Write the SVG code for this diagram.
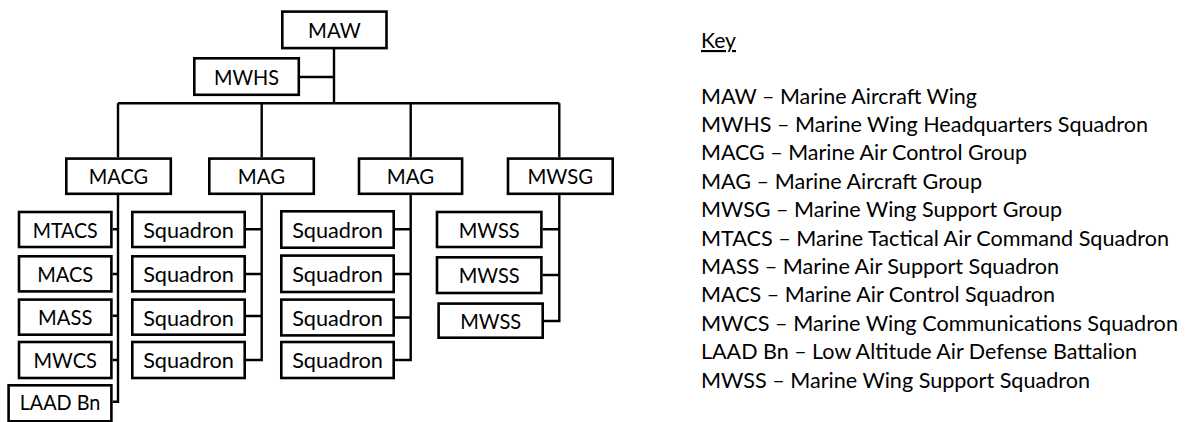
<svg xmlns="http://www.w3.org/2000/svg" width="1186" height="422" viewBox="0 0 1186 422">
<style>
.box{fill:#fff;stroke:#000;stroke-width:2.6}
.lbl{font-family:Lato,"Open Sans","Liberation Sans",sans-serif;font-size:21.5px;fill:#000;text-anchor:middle}
.key{font-family:Lato,"Open Sans","Liberation Sans",sans-serif;font-size:21.5px;fill:#000}
.con{fill:none;stroke:#000;stroke-width:2.4}
</style>
<rect width="1186" height="422" fill="#fff"/>
<g id="connectors">
<path class="con" d="M334,49 V103.3 M300,77 H334 M118,103.3 H559.3 M118,103.3 V157.3 M261.7,103.3 V157.3 M410.7,103.3 V157.3 M559.3,103.3 V157.3"/>
<path class="con" d="M118,195 V401.7 H112.7 M112.7,229.3 H118 M112.7,274 H118 M112.7,315.7 H118 M112.7,360 H118"/>
<path class="con" d="M261.7,195 V360 H246 M246,229.3 H261.7 M246,274 H261.7 M246,316 H261.7"/>
<path class="con" d="M410.7,195 V360 H395 M395,229.3 H410.7 M395,274 H410.7 M395,317.5 H410.7"/>
<path class="con" d="M559.3,195 V321 H544 M542.7,229.3 H559.3 M542.7,275 H559.3"/>
</g>
<g id="MAW"><rect class="box" x="282.3" y="11.6" width="104.2" height="36.5"/><text class="lbl" x="334.4" y="38.3" textLength="52.7" lengthAdjust="spacingAndGlyphs">MAW</text></g>
<g id="MWHS"><rect class="box" x="194.3" y="58.3" width="104.5" height="36.5"/><text class="lbl" x="246.5" y="85" textLength="65" lengthAdjust="spacingAndGlyphs">MWHS</text></g>
<g id="MACG"><rect class="box" x="66.3" y="158.6" width="104.5" height="35.2"/><text class="lbl" x="118.5" y="184.3" textLength="59.3" lengthAdjust="spacingAndGlyphs">MACG</text></g>
<g id="MAG1"><rect class="box" x="209.3" y="158.6" width="104.5" height="35.2"/><text class="lbl" x="261.5" y="184.3" textLength="47.3" lengthAdjust="spacingAndGlyphs">MAG</text></g>
<g id="MAG2"><rect class="box" x="359" y="158.6" width="103.1" height="35.2"/><text class="lbl" x="410.5" y="184.3" textLength="47.3" lengthAdjust="spacingAndGlyphs">MAG</text></g>
<g id="MWSG"><rect class="box" x="508" y="158.6" width="104.7" height="35.2"/><text class="lbl" x="560.3" y="184.3" textLength="65.7" lengthAdjust="spacingAndGlyphs">MWSG</text></g>
<g id="MTACS"><rect class="box" x="19" y="212" width="92.4" height="35"/><text class="lbl" x="65.2" y="237.5" textLength="65" lengthAdjust="spacingAndGlyphs">MTACS</text></g>
<g id="MACS"><rect class="box" x="19" y="256.3" width="92.4" height="35.1"/><text class="lbl" x="65.2" y="282" textLength="56" lengthAdjust="spacingAndGlyphs">MACS</text></g>
<g id="MASS"><rect class="box" x="19" y="299.6" width="92.4" height="35.1"/><text class="lbl" x="65.2" y="325.3" textLength="54.3" lengthAdjust="spacingAndGlyphs">MASS</text></g>
<g id="MWCS"><rect class="box" x="19" y="342" width="92.4" height="36"/><text class="lbl" x="65.2" y="368" textLength="63.3" lengthAdjust="spacingAndGlyphs">MWCS</text></g>
<g id="LAADBn"><rect class="box" x="8.6" y="385.3" width="102.8" height="36"/><text class="lbl" x="60" y="410" textLength="80.7" lengthAdjust="spacingAndGlyphs">LAAD Bn</text></g>
<g id="SqA1"><rect class="box" x="132.3" y="212" width="112.4" height="35"/><text class="lbl" x="188.5" y="237.7" textLength="90.7" lengthAdjust="spacingAndGlyphs">Squadron</text></g>
<g id="SqA2"><rect class="box" x="132.3" y="256.3" width="112.4" height="35.1"/><text class="lbl" x="188.5" y="282.2" textLength="90.7" lengthAdjust="spacingAndGlyphs">Squadron</text></g>
<g id="SqA3"><rect class="box" x="132.3" y="299.6" width="112.4" height="35.1"/><text class="lbl" x="188.5" y="325.5" textLength="90.7" lengthAdjust="spacingAndGlyphs">Squadron</text></g>
<g id="SqA4"><rect class="box" x="132.3" y="342" width="112.4" height="36"/><text class="lbl" x="188.5" y="368.3" textLength="90.7" lengthAdjust="spacingAndGlyphs">Squadron</text></g>
<g id="SqB1"><rect class="box" x="281.3" y="211.3" width="112.4" height="36.4"/><text class="lbl" x="337.5" y="237.7" textLength="90.7" lengthAdjust="spacingAndGlyphs">Squadron</text></g>
<g id="SqB2"><rect class="box" x="281.3" y="255.6" width="112.4" height="36.4"/><text class="lbl" x="337.5" y="282.2" textLength="90.7" lengthAdjust="spacingAndGlyphs">Squadron</text></g>
<g id="SqB3"><rect class="box" x="281.3" y="299.6" width="112.4" height="35.8"/><text class="lbl" x="337.5" y="325.5" textLength="90.7" lengthAdjust="spacingAndGlyphs">Squadron</text></g>
<g id="SqB4"><rect class="box" x="281.3" y="342" width="112.4" height="36"/><text class="lbl" x="337.5" y="368.3" textLength="90.7" lengthAdjust="spacingAndGlyphs">Squadron</text></g>
<g id="MWSS1"><rect class="box" x="437" y="212" width="104.4" height="35"/><text class="lbl" x="489.2" y="237.7" textLength="61" lengthAdjust="spacingAndGlyphs">MWSS</text></g>
<g id="MWSS2"><rect class="box" x="437" y="257.3" width="104.4" height="35.7"/><text class="lbl" x="489.2" y="283.3" textLength="61" lengthAdjust="spacingAndGlyphs">MWSS</text></g>
<g id="MWSS3"><rect class="box" x="438.6" y="303.6" width="104.1" height="34.1"/><text class="lbl" x="490.7" y="329" textLength="61" lengthAdjust="spacingAndGlyphs">MWSS</text></g>
<g id="key">
<text class="key" x="701" y="48" text-decoration="underline" textLength="35" lengthAdjust="spacingAndGlyphs">Key</text>
<text class="key" x="701" y="103.5" textLength="276" lengthAdjust="spacingAndGlyphs">MAW – Marine Aircraft Wing</text>
<text class="key" x="701" y="131.9" textLength="447" lengthAdjust="spacingAndGlyphs">MWHS – Marine Wing Headquarters Squadron</text>
<text class="key" x="701" y="160.3" textLength="326" lengthAdjust="spacingAndGlyphs">MACG – Marine Air Control Group</text>
<text class="key" x="701" y="188.7" textLength="281" lengthAdjust="spacingAndGlyphs">MAG – Marine Aircraft Group</text>
<text class="key" x="701" y="217.1" textLength="361" lengthAdjust="spacingAndGlyphs">MWSG – Marine Wing Support Group</text>
<text class="key" x="701" y="245.5" textLength="468" lengthAdjust="spacingAndGlyphs">MTACS – Marine Tactical Air Command Squadron</text>
<text class="key" x="701" y="273.9" textLength="358" lengthAdjust="spacingAndGlyphs">MASS – Marine Air Support Squadron</text>
<text class="key" x="701" y="302.3" textLength="354" lengthAdjust="spacingAndGlyphs">MACS – Marine Air Control Squadron</text>
<text class="key" x="701" y="330.7" textLength="477" lengthAdjust="spacingAndGlyphs">MWCS – Marine Wing Communications Squadron</text>
<text class="key" x="701" y="359.1" textLength="436" lengthAdjust="spacingAndGlyphs">LAAD Bn – Low Altitude Air Defense Battalion</text>
<text class="key" x="701" y="387.5" textLength="389" lengthAdjust="spacingAndGlyphs">MWSS – Marine Wing Support Squadron</text>
</g>
</svg>
